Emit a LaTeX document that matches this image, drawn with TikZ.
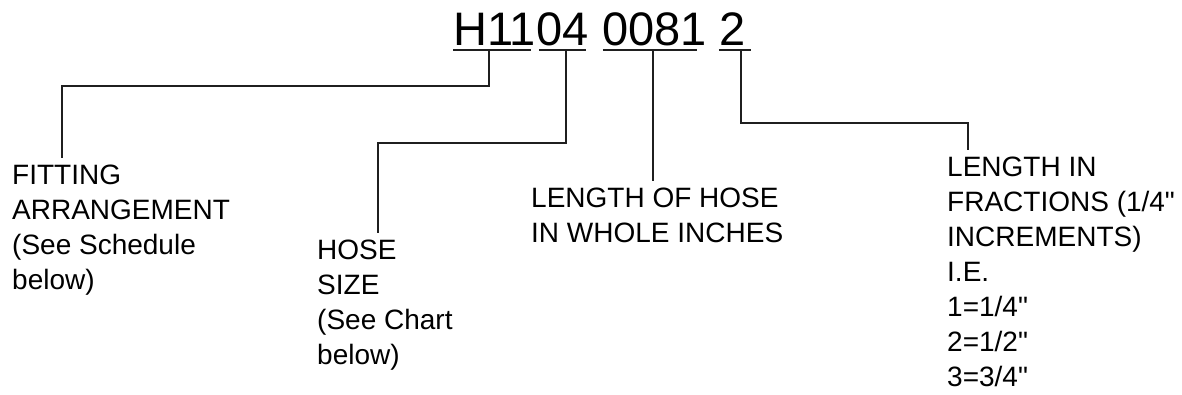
\documentclass[tikz,border=0pt]{standalone}
\usepackage{fontspec}
\setmainfont{Liberation Sans}
\usetikzlibrary{positioning}

\begin{document}
\begin{tikzpicture}[x=1pt, y=-1pt,
  part/.style={anchor=base west, inner sep=0pt, font=\fontsize{47}{47}\selectfont},
  lbl/.style={anchor=north west, inner sep=0pt, align=left, font=\fontsize{28}{35}\selectfont},
  uline/.style={line width=2.2pt, black!88},
  leader/.style={line width=2pt, black!88, shorten >=7pt}]
  \useasboundingbox (0,0) rectangle (1182,394);

  % Part number, split in its fields
  \node[part] (h11) at (453,45) {H11};
  \node[part] (dash) at (h11.base east) {04};
  \node[part] (len) at ([xshift=13pt]dash.base east) {0081};
  \node[part] (frac) at ([xshift=13pt]len.base east) {2};

  % Underlines
  \draw[uline] ([yshift=-5pt]h11.base west) -- ([yshift=-5pt, xshift=-5pt]h11.base east);
  \draw[uline] ([yshift=-5pt, xshift=3pt]dash.base west) -- ([yshift=-5pt, xshift=-3pt]dash.base east);
  \draw[uline] ([yshift=-5pt, xshift=1pt]len.base west) -- ([yshift=-5pt, xshift=-10pt]len.base east);
  \draw[uline] ([yshift=-5pt, xshift=-1pt]frac.base west) -- ([yshift=-5pt, xshift=5pt]frac.base east);

  % Labels
  \node[lbl] (fitting) at (12,165) {FITTING\\ARRANGEMENT\\(See Schedule\\below)};
  \node[lbl] (hose) at (317,240) {HOSE\\SIZE\\(See Chart\\below)};
  \node[lbl] (whole) at (531,188) {LENGTH OF HOSE\\IN WHOLE INCHES};
  \node[lbl] (fraction) at (947,157) {LENGTH IN\\FRACTIONS (1/4\textquotedbl\\INCREMENTS)\\I.E.\\1=1/4\textquotedbl\\2=1/2\textquotedbl\\3=3/4\textquotedbl};

  % Taps on the underlines and bends
  \coordinate (tapA) at (489,50);
  \coordinate (tapB) at (566,50);
  \coordinate (tapC) at (653,50);
  \coordinate (tapD) at (741,50);
  \coordinate (bendA) at (62,86);
  \coordinate (bendB) at (378,143);
  \coordinate (bendD) at (968,123);

  % Leaders
  \draw[leader] (tapA) |- (bendA) -- (bendA |- fitting.north);
  \draw[leader] (tapB) |- (bendB) -- (bendB |- hose.north);
  \draw[leader] (tapC) -- (tapC |- whole.north);
  \draw[leader] (tapD) |- (bendD) -- (bendD |- fraction.north);
\end{tikzpicture}
\end{document}
